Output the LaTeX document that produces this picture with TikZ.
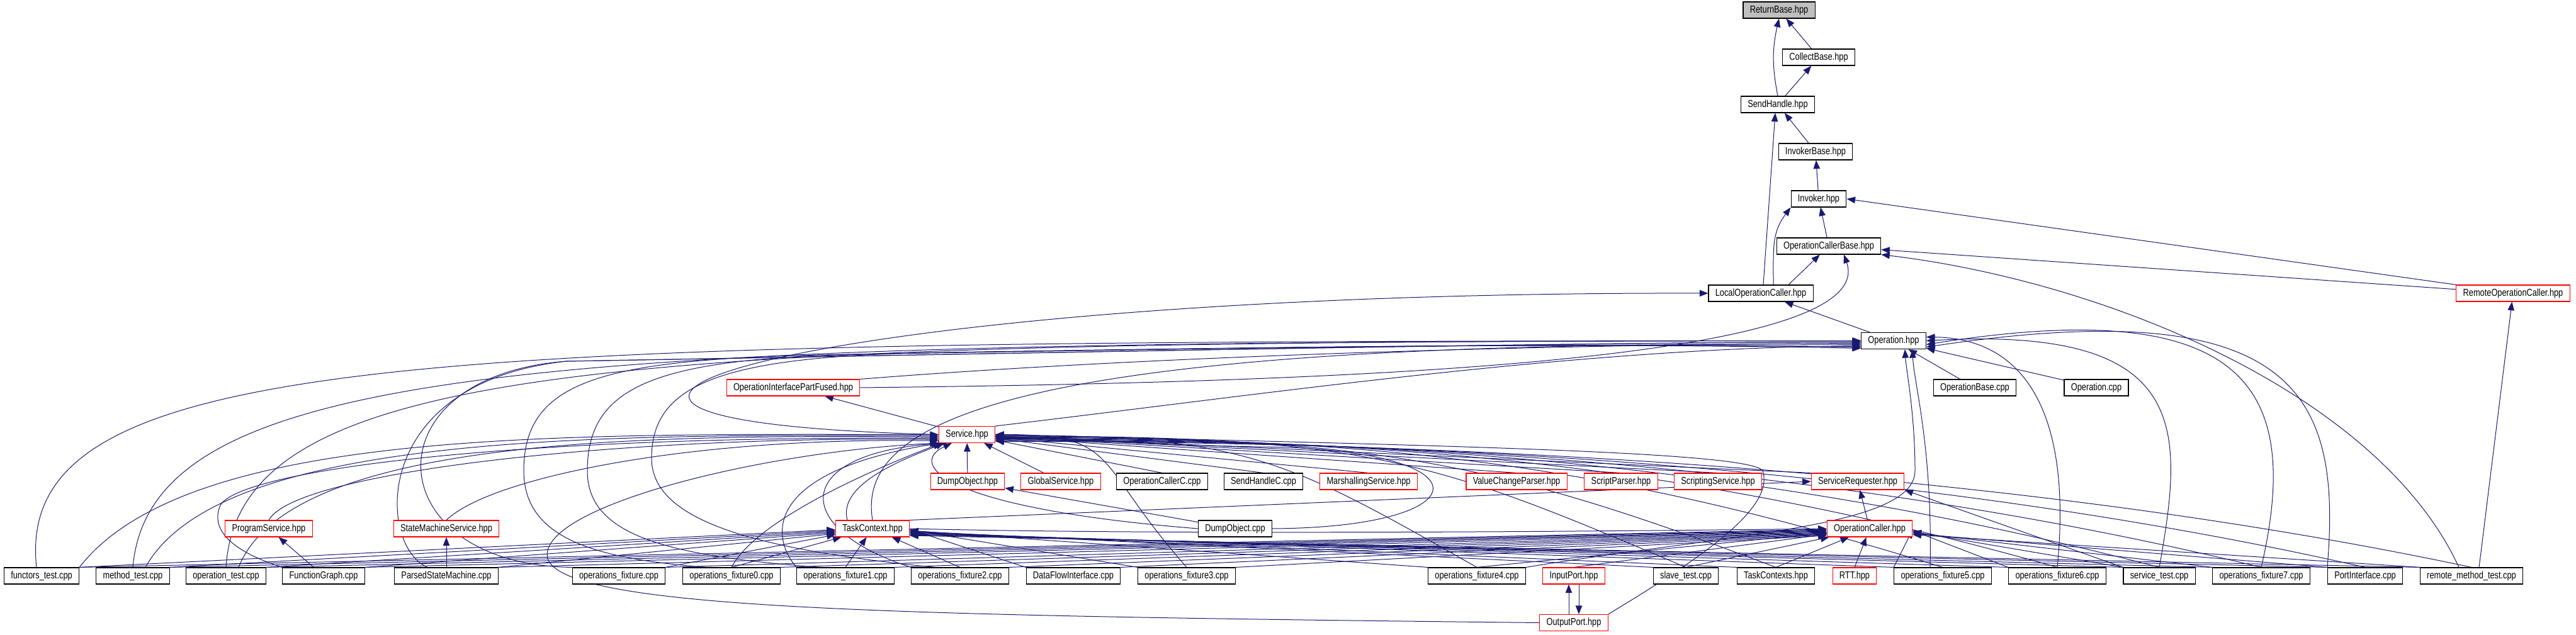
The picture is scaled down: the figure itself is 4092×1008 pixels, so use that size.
\documentclass[tikz,border=0pt]{standalone}
\usepackage{fontspec}
\newfontfamily\dxfont{Liberation Sans}[FakeStretch=0.8]
\usetikzlibrary{arrows.meta}
\definecolor{dxblue}{RGB}{25,25,112}
\definecolor{dxred}{RGB}{255,0,0}
\definecolor{dxgray}{RGB}{191,191,191}
\pgfdeclarelayer{back}
\pgfsetlayers{back,main}
\tikzset{
  file/.style={draw=black, fill=white, line width=0.55pt, inner xsep=5.4pt, inner ysep=0pt,
    minimum height=13pt, font=\fontsize{8}{9.6}\dxfont},
  redfile/.style={file, draw=dxred},
  focus/.style={file, fill=dxgray},
  edge/.style={draw=dxblue, line width=0.5pt, -{Triangle[length=6.8pt,width=5.2pt]}},
}
\begin{document}
\begin{tikzpicture}[x=0.5pt,y=0.5pt]
\useasboundingbox (0,0) rectangle (4092,1008);
% header chain
\node[focus] (RB) at (2826,992) {ReturnBase.hpp};
\node[file] (CB) at (2889,917) {CollectBase.hpp};
\node[file] (SH) at (2824,842) {SendHandle.hpp};
\node[file] (IB) at (2884,767) {InvokerBase.hpp};
\node[file] (IV) at (2889,692) {Invoker.hpp};
\node[file] (OCB) at (2905,617) {OperationCallerBase.hpp};
\node[file] (LOC) at (2797,542) {LocalOperationCaller.hpp};
\node[redfile] (ROC) at (3992,542) {RemoteOperationCaller.hpp};
\node[file] (OP) at (3008,466.5) {Operation.hpp};
\node[redfile] (OIPF) at (1260,392) {OperationInterfacePartFused.hpp};
\node[file] (OBC) at (3137,392) {OperationBase.cpp};
\node[file] (OPC) at (3330,392) {Operation.cpp};
\node[redfile] (SV) at (1536,317.5) {Service.hpp};
% row under Service.hpp
\node[redfile] (DOH) at (1537,243) {DumpObject.hpp};
\node[redfile] (GS) at (1685,243) {GlobalService.hpp};
\node[file] (OCC) at (1846,243) {OperationCallerC.cpp};
\node[file] (SHC) at (2007,243) {SendHandleC.cpp};
\node[redfile] (MS) at (2174,243) {MarshallingService.hpp};
\node[redfile] (VCP) at (2409,243) {ValueChangeParser.hpp};
\node[redfile] (SP) at (2575,243) {ScriptParser.hpp};
\node[redfile] (SS) at (2729,243) {ScriptingService.hpp};
\node[redfile] (SR) at (2951,243) {ServiceRequester.hpp};
% TaskContext row
\node[redfile] (PS) at (427,168) {ProgramService.hpp};
\node[redfile] (SMS) at (709,168) {StateMachineService.hpp};
\node[redfile] (TC) at (1386,168) {TaskContext.hpp};
\node[file] (DOC) at (1962,168) {DumpObject.cpp};
\node[redfile] (OC) at (2970,168) {OperationCaller.hpp};
% bottom row
\foreach \nd/\px/\bc/\lb in {
  ft/66/black/functors\_test.cpp, mt/211/black/method\_test.cpp,
  ot/359/black/operation\_test.cpp, fg/514/black/FunctionGraph.cpp,
  psm/709/black/ParsedStateMachine.cpp, of/983/black/operations\_fixture.cpp,
  of0/1162/black/operations\_fixture0.cpp, of1/1343/black/operations\_fixture1.cpp,
  of2/1525/black/operations\_fixture2.cpp, dfi/1705/black/DataFlowInterface.cpp,
  of3/1885/black/operations\_fixture3.cpp, of4/2346/black/operations\_fixture4.cpp,
  ip/2500/dxred/InputPort.hpp, st/2678/black/slave\_test.cpp,
  tcs/2821/black/TaskContexts.hpp, rtt/2946/dxred/RTT.hpp,
  of5/3086/black/operations\_fixture5.cpp, of6/3268/black/operations\_fixture6.cpp,
  svt/3430/black/service\_test.cpp, of7/3592/black/operations\_fixture7.cpp,
  pi/3757/black/PortInterface.cpp, rmt/3926/black/remote\_method\_test.cpp}
  \node[file, draw=\bc] (\nd) at (\px,93) {\lb};
\node[redfile] (outp) at (2500,18.5) {OutputPort.hpp};

\begin{pgfonlayer}{back}
% header chain
\draw[edge] (CB) -- (RB);
\draw[edge] (SH.north) to[bend left=12] (RB.south);
\draw[edge] (SH) -- (CB);
\draw[edge] (IB) -- (SH);
\draw[edge] ([xshift=2pt]LOC.north) -- ([xshift=-2pt]SH.south);
\draw[edge] (IV) -- (IB);
\draw[edge] (OCB) -- (IV);
\draw[edge] ([xshift=10pt]LOC.north) .. controls +(0,60) and +(-30,-40) .. (IV.south west);
\draw[edge] (ROC.north west) -- (IV.east);
\draw[edge] ([xshift=22pt]LOC.north) -- (OCB);
\draw[edge] (ROC) -- (OCB);
\draw[edge] (OP) -- (LOC);
\draw[edge] (SV.west) .. controls (600,340) and (1300,545) .. (LOC.west);
\draw[edge] (OIPF.east) .. controls (2100,400) and (2990,430) .. ([xshift=12pt]OCB.south);
\draw[edge] ([xshift=-10pt]rmt.north) .. controls (3780,380) and (3350,560) .. (OCB.south east);
% into Operation.hpp
\draw[edge] (OBC) -- (OP);
\draw[edge] (OPC) -- (OP);
\draw[edge] (OIPF.north east) .. controls (1800,440) and (2400,460) .. ([yshift=-2pt]OP.west);
\draw[edge] (SV.north east) .. controls (2000,380) and (2500,455) .. ([yshift=-4pt]OP.west);
\draw[edge] (TC.north) .. controls (1360,340) and (1600,470) .. ([yshift=-3pt]OP.west);
\draw[edge] ([xshift=-4pt]ft.north) .. controls (20,460) and (700,466) .. (OP.west);
\draw[edge] (mt.north) .. controls (240,440) and (900,466) .. (OP.west);
\draw[edge] (ot.north) .. controls (380,440) and (1000,466) .. (OP.west);
\draw[edge] ([xshift=-15pt]psm.north) .. controls (600,140) and (585,400) .. (900,434)
  .. controls (1800,450) and (2500,464) .. ([yshift=-1pt]OP.west);
\draw[edge] (of.north west) .. controls (600,110) and (580,410) .. (900,434)
  .. controls (1800,450) and (2500,464) .. ([yshift=-1pt]OP.west);
\draw[edge] ([xshift=-20pt]of0.north) .. controls (950,120) and (832,150) .. (832,260)
  .. controls (832,400) and (950,436) .. (1300,444) .. controls (2000,456) and (2500,464) .. ([yshift=-5pt]OP.west);
\draw[edge] ([xshift=-20pt]of1.north) .. controls (1050,125) and (933,160) .. (933,260)
  .. controls (933,400) and (1050,440) .. (1400,446) .. controls (2000,456) and (2500,464) .. ([yshift=-5pt]OP.west);
\draw[edge] ([xshift=-20pt]of2.north) .. controls (1200,135) and (1035,180) .. (1035,280)
  .. controls (1035,400) and (1150,443) .. (1500,448) .. controls (2000,456) and (2500,464) .. ([yshift=-6pt]OP.west);
\draw[edge] (of4.north east) .. controls (2750,160) and (3042,170) .. (3042,260)
  .. controls (3042,350) and (3028,420) .. ([xshift=9pt]OP.south);
\draw[edge] ([xshift=-10pt]of5.north) .. controls (3070,300) and (3040,400) .. ([xshift=15pt]OP.south);
\draw[edge] (of6.north) .. controls (3290,330) and (3230,470) .. ([yshift=3pt]OP.east);
\draw[edge] (svt.north) .. controls (3470,330) and (3480,490) .. (OP.east);
\draw[edge] (of7.north) .. controls (3660,400) and (3560,540) .. ([yshift=-3pt]OP.east);
\draw[edge] (pi.north west) .. controls (3720,380) and (3650,545) .. ([yshift=-5pt]OP.east);
% into Service.hpp
\draw[edge] (ft.north east) .. controls (300,330) and (900,318) .. (SV.west);
\draw[edge] ([xshift=10pt]mt.north) .. controls (350,320) and (950,318) .. ([yshift=-1pt]SV.west);
\draw[edge] ([xshift=10pt]ot.north) .. controls (460,310) and (1000,318) .. ([yshift=-2pt]SV.west);
\draw[edge] (fg.north west) .. controls (360,135) and (335,170) .. (350,205)
  .. controls (380,260) and (800,316) .. ([yshift=-3pt]SV.west);
\draw[edge] (PS.north) .. controls (470,260) and (1000,316) .. ([yshift=-4pt]SV.west);
\draw[edge] (SMS.north) .. controls (780,250) and (1100,314) .. ([yshift=-5pt]SV.west);
\draw[edge] (outp.west) .. controls (1400,30) and (900,40) .. (870,120)
  .. controls (850,200) and (1200,290) .. (SV.south west);
\draw[edge] (DOH) -- (SV);
\draw[edge] (GS) -- (SV);
\draw[edge] ([xshift=-20pt]TC.north) .. controls (1330,240) and (1440,280) .. ([xshift=-18pt]SV.south);
\draw[edge] (of0.north) .. controls (1200,180) and (1380,260) .. ([xshift=-20pt]SV.south);
\draw[edge] (of1.north west) .. controls (1220,160) and (1220,260) .. ([xshift=-21pt]SV.south);
\draw[edge] (of2.north west) .. controls (1250,170) and (1260,290) .. ([xshift=-16pt]SV.south);
\draw[edge] (DOC.west) .. controls (1500,200) and (1440,270) .. ([xshift=-12pt]SV.south);
\foreach \nd in {OCC,SHC,MS,VCP,SP,SS} \draw[edge] (\nd.north) -- (SV);
\draw[edge] (SR.north west) -- (SV);
\draw[edge] (DOC.east) .. controls (2360,170) and (2370,295) .. (2000,298)
  .. controls (1800,302) and (1700,312) .. (SV.east);
\draw[edge] (outp.north east) .. controls (2700,120) and (2820,200) .. (2800,260)
  .. controls (2780,290) and (2300,300) .. (SV.east);
\foreach \nd/\dx/\ex/\sh in {of3/150/200/0, of4/300/400/1, st/400/600/2, tcs/450/600/3,
  of5/550/600/4, of6/600/600/5, svt/650/600/6, of7/700/600/7, pi/750/600/8, rmt/800/600/9}
  \draw[edge] (\nd.north) .. controls +(-\dx,170) and +(\ex,0) .. ([yshift={-\sh*0.6pt}]SV.east);
% into TaskContext.hpp
\foreach \nd [count=\i] in {ft,mt,ot,fg,psm,of}
  \draw[edge] (\nd.north east) -- ([yshift={-\i*0.8pt}]TC.west);
\foreach \nd in {of0,of1,of2} \draw[edge] (\nd.north) -- (TC);
\foreach \nd [count=\i] in {dfi,of3,of4,st,tcs,of5,of6,svt,of7,pi,rmt}
  \draw[edge] (\nd.north west) -- ([yshift={-\i*0.5pt}]TC.east);
% into OperationCaller.hpp
\draw[edge] (TC.east) .. controls +(400,-10) and +(-400,-5) .. (OC.west);
\foreach \nd [count=\i] in {ft,mt,ot,fg,psm,of,of0,of1,of2,dfi,of3}
  \draw[edge] (\nd.north east) -- ([yshift={-\i*0.5pt}]OC.west);
\foreach \nd in {of4,ip,st,tcs,rtt} \draw[edge] (\nd.north) -- (OC);
\foreach \nd [count=\i] in {of5,of6,svt,of7,pi,rmt}
  \draw[edge] (\nd.north west) -- ([yshift={-\i*0.8pt}]OC.east);
% the rest
\draw[edge] (TC.north east) -- (SR.west);
\draw[edge] (OC) -- (SR);
\draw[edge] (svt.north west) -- (SR.south east);
\draw[edge] (fg) -- (PS);
\draw[edge] (psm) -- (SMS);
\draw[edge] (DOC) -- (DOH);
\draw[edge] (SV) -- (OIPF);
\draw[edge] ([xshift=6pt]rmt.north) -- (ROC);
\draw[edge] ([xshift=-4pt]outp.north) -- ([xshift=-4pt]ip.south);
\draw[edge] ([xshift=4pt]ip.south) -- ([xshift=4pt]outp.north);
\end{pgfonlayer}
\end{tikzpicture}
\end{document}
